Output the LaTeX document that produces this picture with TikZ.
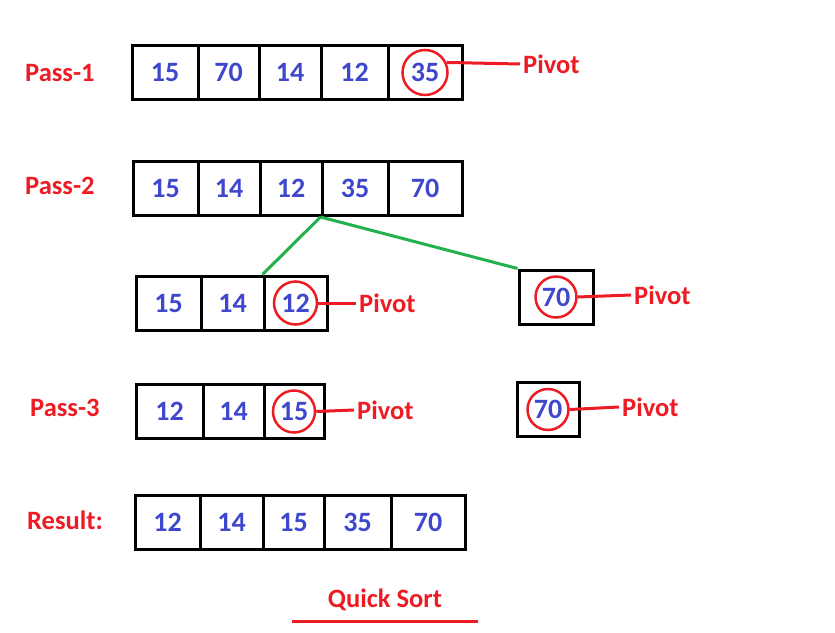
\documentclass[tikz,border=0pt]{standalone}
\usepackage{fontspec}
\setmainfont{Carlito}
\definecolor{paintred}{RGB}{237,28,36}
\definecolor{paintblue}{RGB}{63,72,204}
\definecolor{paintgreen}{RGB}{34,177,76}

\begin{document}
\begin{tikzpicture}[x=1pt, y=-1pt,
  cell/.style = {draw, line width=3pt, minimum height=54, inner sep=0pt,
    font=\fontsize{28}{32}\selectfont\bfseries, text=paintblue},
  tag/.style = {anchor=west, inner sep=3pt, text=paintred,
    font=\fontsize{26.5}{30}\selectfont\bfseries},
  ring/.style = {circle, draw=paintred, line width=2.5pt,
    minimum size=43, inner sep=0pt},
  link/.style = {paintred, line width=3pt},
  branch/.style = {paintgreen, line width=3pt}
  ]
  \useasboundingbox (0,0) rectangle (835,632);
  % Pass-1
  \node[tag] (lab1) at (22,73) {Pass-1};
  \foreach \l/\r/\v [count=\i] in {132/198/15, 198/259/70, 259/321/14,
      321/388/12, 388/462/35}
    \node[cell, minimum width={\r-\l}] (a\i) at ({(\l+\r)/2},72.5) {\v};
  \node[ring, minimum size=45] (ra) at (a5) {};
  \node[tag] (pa) at (520,64) {Pivot};
  \draw[link] (ra.25) -- (pa.west);
  % Pass-2
  \node[tag] (lab2) at (22,186) {Pass-2};
  \foreach \l/\r/\v [count=\i] in {133/198/15, 198/260/14, 260/322/12,
      322/388/35, 388/462/70}
    \node[cell, minimum width={\r-\l}] (b\i) at ({(\l+\r)/2},188.5) {\v};
  % left part
  \foreach \l/\r/\v [count=\i] in {136/201/15, 201/264/14, 264/327/12}
    \node[cell, minimum width={\r-\l}] (c\i) at ({(\l+\r)/2},303) {\v};
  \node[ring] (rc) at (c3) {};
  \node[tag] (pc) at (356,303) {Pivot};
  \draw[link] (rc.east) -- (pc.west);
  % right part
  \node[cell, minimum width=74] (d1) at (556,297) {70};
  \node[ring, minimum size=41] (rd) at (d1) {};
  \node[tag] (pd) at (631,295) {Pivot};
  \draw[link] (rd.east) -- (pd.west);
  \draw[branch] (b4.south west) -- (c3.north west);
  \draw[branch] (b4.south west) -- (d1.north west);
  % Pass-3
  \node[tag] (lab3) at (27,408) {Pass-3};
  \foreach \l/\r/\v [count=\i] in {136/203/12, 203/264/14, 264/324/15}
    \node[cell, minimum width={\r-\l}] (e\i) at ({(\l+\r)/2},411.5) {\v};
  \node[ring, minimum size=42] (re) at (e3) {};
  \node[tag] (pe) at (354,410) {Pivot};
  \draw[link] (re.east) -- (pe.west);
  \node[cell, minimum width=62] (f1) at (548,409.5) {70};
  \node[ring, minimum size=41] (rf) at (f1) {};
  \node[tag] (pf) at (619,407) {Pivot};
  \draw[link] (rf.east) -- (pf.west);
  % Result
  \node[tag] (lab4) at (24,520) {Result:};
  \foreach \l/\r/\v [count=\i] in {135/200/12, 200/263/14, 263/324/15,
      324/391/35, 391/465/70}
    \node[cell, minimum width={\r-\l}] (g\i) at ({(\l+\r)/2},522) {\v};
  % title
  \node[tag, anchor=center] (title) at (385,600) {Quick Sort};
  \coordinate (ul1) at (292,621);
  \coordinate (ul2) at (478,621);
  \draw[link] (ul1) -- (ul2);
\end{tikzpicture}
\end{document}
